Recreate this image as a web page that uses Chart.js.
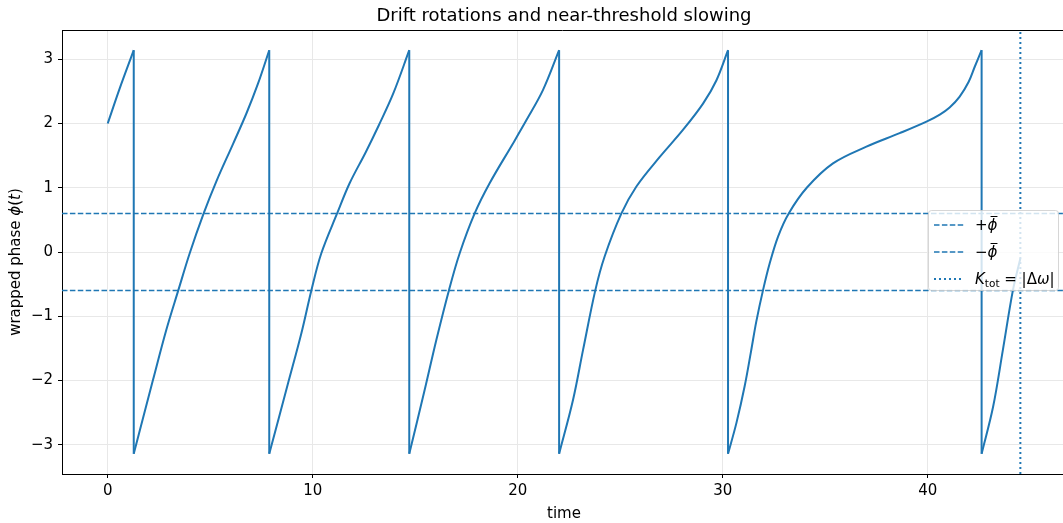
<!DOCTYPE html>
<html>
<head>
<meta charset="utf-8">
<script src="https://cdn.jsdelivr.net/npm/chart.js@4.4.0/dist/chart.umd.min.js"></script>
<style>
  html, body { margin: 0; padding: 0; background: #fff; }
</style>
</head>
<body>
<canvas id="chart" width="1063" height="523"></canvas>
<script>
// wrapped phase, one rotation at a time
const tRun0 = [0, 0.59, 1.27];
const phiRun0 = [2.0, 2.55, 3.1416];
const tRun1 = [1.27, 2.21, 2.86, 3.45, 4.0, 4.68, 5.30, 6.11, 6.77, 7.33, 7.88];
const phiRun1 = [-3.1416, -1.99, -1.21, -0.59, -0.02, 0.60, 1.10, 1.68, 2.16, 2.62, 3.1416];
const tRun2 = [7.88, 8.80, 9.45, 9.94, 10.42, 11.19, 11.80, 12.58, 13.22, 13.92, 14.71];
const phiRun2 = [-3.1416, -2.04, -1.26, -0.59, -0.02, 0.60, 1.07, 1.55, 1.97, 2.46, 3.1416];
const tRun3 = [14.71, 15.46, 16.03, 16.65, 17.17, 17.90, 18.63, 19.77, 20.42, 21.23, 22.02];
const phiRun3 = [-3.1416, -2.15, -1.37, -0.59, -0.02, 0.60, 1.07, 1.69, 2.05, 2.52, 3.1416];
const tRun4 = [22.02, 22.70, 23.19, 23.79, 24.24, 25.06, 25.79, 26.93, 28.06, 29.04, 29.69, 30.26];
const phiRun4 = [-3.1416, -2.30, -1.52, -0.59, -0.07, 0.60, 1.02, 1.48, 1.90, 2.31, 2.67, 3.1416];
const tRun5 = [30.26, 30.67, 31.07, 31.38, 31.64, 31.97, 32.29, 32.70, 33.22, 34.10, 35.38,
               37.01, 38.63, 39.94, 40.59, 41.07, 41.56, 42.0, 42.29, 42.63];
const phiRun5 = [-3.1416, -2.66, -2.09, -1.55, -1.08, -0.59, -0.18, 0.24, 0.60, 1.0, 1.38,
                 1.64, 1.85, 2.03, 2.14, 2.25, 2.42, 2.65, 2.88, 3.1416];
const tRun6 = [42.63, 43.19, 43.67, 44.16, 44.52];
const phiRun6 = [-3.1416, -2.41, -1.52, -0.59, -0.10];

// times where the phase wraps from +pi to -pi
const wrapTimes = [1.27, 7.88, 14.71, 22.02, 30.26, 42.63];
const wrapTop = 3.1416;
const wrapBottom = -3.1416;

const phiBar = 0.6;        // +/- phi bar
const kThresholdTime = 44.52;

const xTicks = [0, 10, 20, 30, 40];
const yTicks = [-3, -2, -1, 0, 1, 2, 3];
const xMin = -2.23, xMax = 46.6;
const yMin = -3.456, yMax = 3.456;

const BLUE = '#1f77b4';
const FONT = '"DejaVu Sans", sans-serif';

const runs = [
  [tRun0, phiRun0], [tRun1, phiRun1], [tRun2, phiRun2], [tRun3, phiRun3],
  [tRun4, phiRun4], [tRun5, phiRun5], [tRun6, phiRun6]
];

const datasets = [];
runs.forEach(([ts, ys]) => {
  datasets.push({
    data: ts.map((t, i) => ({ x: t, y: ys[i] })),
    borderColor: BLUE,
    borderWidth: 2,
    tension: 0.35,
    showLine: true,
    pointRadius: 0
  });
});

// vertical jumps at each wrap
const jumpData = [];
wrapTimes.forEach(t => {
  jumpData.push({ x: t, y: wrapTop }, { x: t, y: wrapBottom }, { x: t, y: null });
});
datasets.push({
  data: jumpData, borderColor: BLUE, borderWidth: 2, showLine: true,
  pointRadius: 0, tension: 0, spanGaps: false
});

// +phi bar, -phi bar
[phiBar, -phiBar].forEach(v => {
  datasets.push({
    data: [{ x: xMin, y: v }, { x: xMax, y: v }],
    borderColor: BLUE, borderWidth: 1.5, borderDash: [5.5, 2.4],
    showLine: true, pointRadius: 0, tension: 0
  });
});

// K_tot = |dw| marker
datasets.push({
  data: [{ x: kThresholdTime, y: yMin }, { x: kThresholdTime, y: yMax }],
  borderColor: BLUE, borderWidth: 2, borderDash: [2, 3],
  showLine: true, pointRadius: 0, tension: 0
});

// texts outside the plot + legend box
const decorPlugin = {
  id: 'decor',
  afterDraw(chart) {
    const ctx = chart.ctx;
    const area = chart.chartArea;
    ctx.save();

    // top spine
    ctx.strokeStyle = '#000';
    ctx.lineWidth = 1;
    ctx.beginPath();
    ctx.moveTo(area.left, area.top + 0.5);
    ctx.lineTo(area.right, area.top + 0.5);
    ctx.stroke();

    ctx.fillStyle = '#000';
    // title
    ctx.font = '18px ' + FONT;
    ctx.textAlign = 'center';
    ctx.textBaseline = 'alphabetic';
    ctx.fillText('Drift rotations and near-threshold slowing', 564, 21);

    // x label
    ctx.font = '15px ' + FONT;
    ctx.fillText('time', 564, 518);

    // y label
    ctx.save();
    ctx.translate(20, 262);
    ctx.rotate(-Math.PI / 2);
    const parts = [
      ['wrapped phase ', ''], ['\u03d5', 'italic '], ['(', ''], ['t', 'italic '], [')', '']
    ];
    let total = 0;
    parts.forEach(p => { ctx.font = p[1] + '15px ' + FONT; total += ctx.measureText(p[0]).width; });
    let px = -total / 2;
    ctx.textAlign = 'left';
    parts.forEach(p => {
      ctx.font = p[1] + '15px ' + FONT;
      ctx.fillText(p[0], px, 0);
      px += ctx.measureText(p[0]).width;
    });
    ctx.restore();

    // legend
    const bx = 928.5, by = 210.5, bw = 130, bh = 80, r = 3;
    ctx.beginPath();
    ctx.moveTo(bx + r, by);
    ctx.lineTo(bx + bw - r, by);
    ctx.quadraticCurveTo(bx + bw, by, bx + bw, by + r);
    ctx.lineTo(bx + bw, by + bh - r);
    ctx.quadraticCurveTo(bx + bw, by + bh, bx + bw - r, by + bh);
    ctx.lineTo(bx + r, by + bh);
    ctx.quadraticCurveTo(bx, by + bh, bx, by + bh - r);
    ctx.lineTo(bx, by + r);
    ctx.quadraticCurveTo(bx, by, bx + r, by);
    ctx.closePath();
    ctx.fillStyle = 'rgba(255,255,255,0.8)';
    ctx.fill();
    ctx.strokeStyle = 'rgba(204,204,204,0.8)';
    ctx.lineWidth = 1;
    ctx.stroke();

    const rows = [225, 252, 279];
    const dashes = [[5.5, 2.4], [5.5, 2.4], [2, 3]];
    const widths = [1.5, 1.5, 2];
    rows.forEach((y, i) => {
      ctx.strokeStyle = BLUE;
      ctx.lineWidth = widths[i];
      ctx.setLineDash(dashes[i]);
      ctx.beginPath();
      ctx.moveTo(934, y);
      ctx.lineTo(964, y);
      ctx.stroke();
    });
    ctx.setLineDash([]);

    ctx.fillStyle = '#000';
    ctx.textAlign = 'left';
    ctx.textBaseline = 'alphabetic';
    const drawRun = (items, x, base) => {
      items.forEach(it => {
        ctx.font = it.f;
        const w = ctx.measureText(it.s).width;
        ctx.fillText(it.s, x, base + (it.dy || 0));
        if (it.bar) {
          ctx.strokeStyle = '#000';
          ctx.lineWidth = 1;
          ctx.beginPath();
          ctx.moveTo(x + 3, base - 13.5);
          ctx.lineTo(x + w, base - 13.5);
          ctx.stroke();
        }
        x += w;
      });
    };
    const reg = '15px ' + FONT, ita = 'italic 15px ' + FONT, sub = '10.5px ' + FONT;
    drawRun([{ s: '+', f: reg }, { s: '\u03d5', f: ita, bar: true }], 975, 230);
    drawRun([{ s: '\u2212', f: reg }, { s: '\u03d5', f: ita, bar: true }], 975, 257);
    drawRun([
      { s: 'K', f: ita }, { s: 'tot', f: sub, dy: 3 }, { s: ' = |\u0394', f: reg },
      { s: '\u03c9', f: ita }, { s: '|', f: reg }
    ], 975, 284);

    ctx.restore();
  }
};

new Chart(document.getElementById('chart'), {
  type: 'scatter',
  data: { datasets: datasets },
  options: {
    responsive: false,
    animation: false,
    devicePixelRatio: 1,
    layout: { padding: { top: 30, left: 0, right: 0, bottom: 0 } },
    plugins: { legend: { display: false }, tooltip: { enabled: false }, title: { display: false } },
    scales: {
      x: {
        type: 'linear', min: xMin, max: xMax,
        afterBuildTicks: s => { s.ticks = xTicks.map(v => ({ value: v })); },
        afterFit: s => { s.height = 49; },
        ticks: { color: '#000', font: { family: FONT, size: 15 }, padding: 4, maxRotation: 0 },
        grid: { color: '#e8e8e8', lineWidth: 1, tickColor: '#000', tickLength: 4 },
        border: { display: true, color: '#000', width: 1 }
      },
      y: {
        type: 'linear', min: yMin, max: yMax,
        afterBuildTicks: s => { s.ticks = yTicks.map(v => ({ value: v })); },
        afterFit: s => { s.width = 62; },
        ticks: {
          color: '#000', font: { family: FONT, size: 15 }, padding: 5,
          callback: v => String(v).replace('-', '\u2212')
        },
        grid: { color: '#e8e8e8', lineWidth: 1, tickColor: '#000', tickLength: 4 },
        border: { display: true, color: '#000', width: 1 }
      }
    }
  },
  plugins: [decorPlugin]
});
</script>
</body>
</html>
